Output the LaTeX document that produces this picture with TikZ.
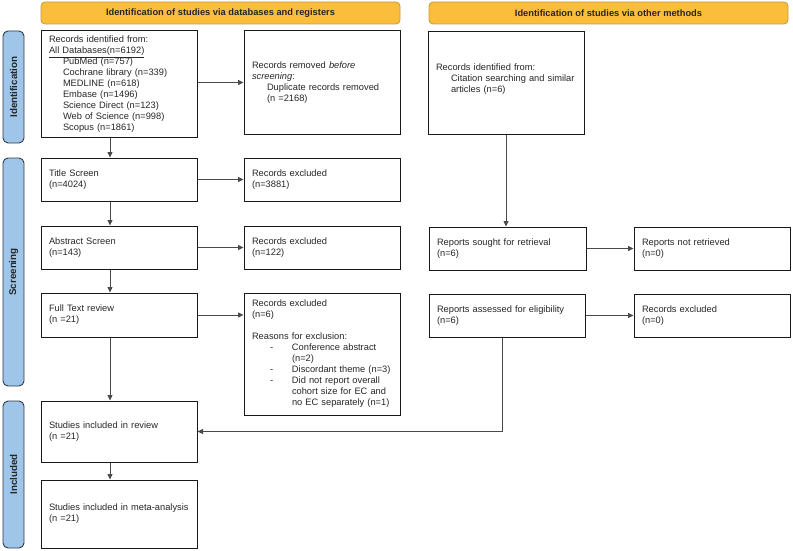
\documentclass[tikz,border=0pt]{standalone}
\usepackage{fontspec}
\setmainfont{Liberation Sans}
\usetikzlibrary{arrows.meta}
\definecolor{hdrfill}{HTML}{FBBD3C}
\definecolor{hdrdraw}{HTML}{C99A3A}
\definecolor{sidefill}{HTML}{9FC5E8}
\definecolor{sidedraw}{HTML}{2F3A48}
\definecolor{txt}{HTML}{262626}
\definecolor{linec}{HTML}{4A4A4A}
\begin{document}
\begin{tikzpicture}[x=1pt,y=-1pt,
  box/.style={draw=black!90, line width=1pt, rectangle, inner xsep=8pt, inner ysep=2pt,
    align=left, text=txt, font=\fontsize{9.3}{11}\selectfont},
  hdr/.style={draw=hdrdraw, fill=hdrfill, line width=0.8pt, rounded corners=4pt, inner sep=0pt,
    minimum width=359, minimum height=22, font=\bfseries\fontsize{9.3}{10}\selectfont, text=txt},
  side/.style={draw=sidedraw, fill=sidefill, line width=0.9pt, rounded corners=5pt, inner sep=0pt,
    minimum width=21},
  sidetxt/.style={rotate=90, font=\bfseries\fontsize{9.8}{10}\selectfont, text=txt},
  arr/.style={draw=linec, line width=0.8pt, -{Triangle[length=5.5pt,width=5pt]}},
  ln/.style={draw=linec, line width=0.8pt}
]
\useasboundingbox (0,0) rectangle (793,551);
% headers
\node[hdr] (H1) at (220.5,13) {Identification of studies via databases and registers};
\node[hdr] (H2) at (608.5,13) {Identification of studies via other methods};
% side labels
\node[side, minimum height=112] (SI) at (13.5,87) {};
\node[sidetxt] (SIt) at (SI.center) {Identification};
\node[side, minimum height=228] (SS) at (13.5,272) {};
\node[sidetxt] (SSt) at (SS.center) {Screening};
\node[side, minimum height=147] (SN2) at (13.5,474.5) {};
\node[sidetxt] (SNt) at (SN2.center) {Included};
% left column
\node[box, minimum width=156, minimum height=106, text width=140] (A) at (119,84) {Records identified from:\\
\underline{All Databases(n=6192)}\\
\hspace*{14pt}PubMed (n=757)\\
\hspace*{14pt}Cochrane library (n=339)\\
\hspace*{14pt}MEDLINE (n=618)\\
\hspace*{14pt}Embase (n=1496)\\
\hspace*{14pt}Science Direct (n=123)\\
\hspace*{14pt}Web of Science (n=998)\\
\hspace*{14pt}Scopus (n=1861)};
\node[box, minimum width=156, minimum height=103, text width=140] (B) at (322,82.5) {Records removed \textit{before}\\
\textit{screening}:\\
\hspace*{15pt}Duplicate records removed\\
\hspace*{15pt}(n =2168)};
\node[box, minimum width=156, minimum height=43, text width=140] (T) at (119,179.5) {Title Screen\\(n=4024)};
\node[box, minimum width=156, minimum height=43, text width=140] (TE) at (322,179.5) {Records excluded\\(n=3881)};
\node[box, minimum width=156, minimum height=43, text width=140] (Ab) at (119,247.5) {Abstract Screen\\(n=143)};
\node[box, minimum width=156, minimum height=43, text width=140] (AbE) at (322,247.5) {Records excluded\\(n=122)};
\node[box, minimum width=156, minimum height=44, text width=140] (F) at (119,315) {Full Text review\\(n =21)};
\node[box, minimum width=156, minimum height=122, text width=140] (FE) at (322,354) {Records excluded\\(n=6)\\[11pt]
Reasons for exclusion:\\
\hspace*{18pt}\makebox[22pt][l]{-}Conference abstract\\
\hspace*{40pt}(n=2)\\
\hspace*{18pt}\makebox[22pt][l]{-}Discordant theme (n=3)\\
\hspace*{18pt}\makebox[22pt][l]{-}Did not report overall\\
\hspace*{40pt}cohort size for EC and\\
\hspace*{40pt}no EC separately (n=1)};
\node[box, minimum width=156, minimum height=61, text width=140] (R) at (119,431.5) {Studies included in review\\(n =21)};
\node[box, minimum width=156, minimum height=68, text width=140] (M) at (119,514) {Studies included in meta-analysis\\(n =21)};
% right column
\node[box, minimum width=156, minimum height=102, text width=140] (C) at (506,83) {Records identified from:\\
\hspace*{15pt}Citation searching and similar\\
\hspace*{15pt}articles (n=6)\\[-1pt]\mbox{}};
\node[box, minimum width=157, minimum height=43, text width=141] (S) at (507.5,248.5) {Reports sought for retrieval\\(n=6)};
\node[box, minimum width=156, minimum height=43, text width=140] (SNR) at (712,248.5) {Reports not retrieved\\(n=0)};
\node[box, minimum width=156, minimum height=43, text width=140] (E) at (507,315.5) {Reports assessed for eligibility\\(n=6)};
\node[box, minimum width=156, minimum height=43, text width=140] (EE) at (712,315.5) {Records excluded\\(n=0)};
% connectors
\draw[arr] ([xshift=-9pt]A.south) -- ([xshift=-9pt]T.north);
\draw[arr] ([xshift=-9pt]T.south) -- ([xshift=-9pt]Ab.north);
\draw[arr] ([xshift=-9pt]Ab.south) -- ([xshift=-9pt]F.north);
\draw[arr] ([xshift=-9pt]F.south) -- ([xshift=-9pt]R.north);
\draw[arr] ([xshift=-9pt]R.south) -- ([xshift=-9pt]M.north);
\draw[arr] (B.west -| A.east) -- (B.west);
\draw[arr] (T.east) -- (TE.west);
\draw[arr] (Ab.east) -- (AbE.west);
\draw[arr] (F.east) -- (F.east -| FE.west);
\draw[arr] (C.south) -- (C.south |- S.north);
\draw[arr] (S.east) -- (SNR.west);
\draw[arr] (E.east) -- (E.east -| EE.west);
\draw[arr] ([xshift=-5pt]E.south) |- (R.east);
\end{tikzpicture}
\end{document}
